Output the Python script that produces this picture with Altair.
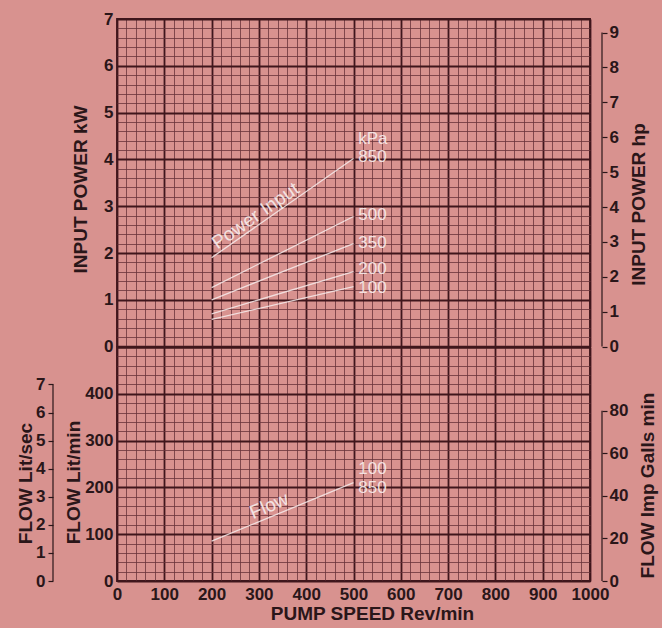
import altair as alt
import pandas as pd

# ---------------- data ----------------
speed = [200, 500]
kw_850 = [1.90, 4.02]
kw_500 = [1.26, 2.78]
kw_350 = [1.00, 2.20]
kw_200 = [0.70, 1.60]
kw_100 = [0.58, 1.28]

curve_names = ["850", "500", "350", "200", "100"]

label_text = ["kPa", "850", "500", "350", "200", "100"]
label_kw = [4.44, 4.06, 2.82, 2.22, 1.65, 1.26]
label_speed = [510, 510, 510, 510, 510, 510]

flow_speed = [200, 500]
flow_lpm = [85, 210]
flow_label_text = ["100", "850"]
flow_label_lpm = [239, 199]
flow_label_speed = [510, 510]

power_title_speed = [305]
power_title_kw = [2.62]
flow_title_speed = [330]
flow_title_lpm = [141]

# ---------------- styling ----------------
BG = "#d8928f"
MAJOR = "#3f161c"
MINOR = "#6a343b"
TXT = "#2a1619"
WHITE = "#f7ecec"
FONT = "Liberation Sans"

UNIT = 46.8
W = 473
H_TOP = 7 * UNIT
H_BOT = 5 * UNIT

x_vals = list(range(0, 1001, 20))
kw_vals = [round(i * 0.2, 1) for i in range(36)]
lpm_vals = list(range(0, 501, 20))


def gcol(test):
    return {"condition": {"test": test, "value": MAJOR}, "value": MINOR}


def gwid(test):
    return {"condition": {"test": test, "value": 1.8}, "value": 0.8}


X_TEST = "datum.value % 100 === 0"
KW_TEST = "abs(datum.value - round(datum.value)) < 0.01"
LPM_TEST = "datum.value % 100 === 0"

x_scale = alt.Scale(domain=[0, 1000], nice=False, zero=True)
kw_scale = alt.Scale(domain=[0, 7], nice=False)
lpm_scale = alt.Scale(domain=[0, 500], nice=False)

x_axis_top = alt.Axis(values=x_vals, labels=False, ticks=False, domain=False,
                      title=None, grid=True, gridColor=gcol(X_TEST),
                      gridWidth=gwid(X_TEST), gridOpacity=1)
x_axis_bot = alt.Axis(values=x_vals, format="d", labelOverlap=False, labelFlush=False,
                      labelExpr=f"{X_TEST} ? datum.label : ''",
                      ticks=False, domain=False, labelPadding=5,
                      title="PUMP SPEED Rev/min", titleX=255, titlePadding=2,
                      grid=True, gridColor=gcol(X_TEST), gridWidth=gwid(X_TEST), gridOpacity=1)
kw_axis = alt.Axis(values=kw_vals, labelOverlap=False, labelFlush=False,
                   labelExpr=f"{KW_TEST} ? format(datum.value, 'd') : ''",
                   ticks=False, domain=False, labelPadding=4,
                   title="INPUT POWER kW", titleX=-37, titleY=170,
                   titleBaseline="middle", titleAngle=270,
                   grid=True, gridColor=gcol(KW_TEST), gridWidth=gwid(KW_TEST), gridOpacity=1)
lpm_axis = alt.Axis(values=lpm_vals, labelOverlap=False, labelFlush=False,
                    labelExpr=f"{LPM_TEST} && datum.value < 500 ? format(datum.value, 'd') : ''",
                    ticks=False, domain=False, labelPadding=4,
                    title="FLOW Lit/min", titleX=-44, titleY=135,
                    titleBaseline="middle", titleAngle=270,
                    grid=True, gridColor=gcol(LPM_TEST), gridWidth=gwid(LPM_TEST), gridOpacity=1)

# ---------------- top panel ----------------
curves = pd.DataFrame({
    "speed": speed * 5,
    "kw": kw_850 + kw_500 + kw_350 + kw_200 + kw_100,
    "kpa": sum([[n] * len(speed) for n in curve_names], []),
})
labels = pd.DataFrame({"speed": label_speed, "kw": label_kw, "text": label_text})
ptitle = pd.DataFrame({"speed": power_title_speed, "kw": power_title_kw, "text": ["Power Input"]})

X_top = alt.X("speed:Q", scale=x_scale, axis=x_axis_top)
Y_kw = alt.Y("kw:Q", scale=kw_scale, axis=kw_axis)

top_lines = alt.Chart(curves).mark_line(color=WHITE, strokeWidth=1.3, opacity=0.85).encode(
    x=X_top, y=Y_kw, detail="kpa:N")
top_labels = alt.Chart(labels).mark_text(color=WHITE, font=FONT, fontSize=17, align="left",
                                         baseline="middle", opacity=0.9).encode(
    x=X_top, y=Y_kw, text="text:N")
top_title = alt.Chart(ptitle).mark_text(color=WHITE, font=FONT, fontSize=19, align="center",
                                        baseline="bottom", angle=325, opacity=0.9).encode(
    x=X_top, y=Y_kw, text="text:N")
top_main = alt.layer(top_lines, top_labels, top_title)

hp_rule = alt.Chart(pd.DataFrame({"lo": [0], "hi": [9]})).mark_rule(
    color=TXT, strokeWidth=1.2).encode(
    x=alt.value(W + 12),
    y=alt.Y("lo:Q", scale=alt.Scale(domain=[0, 7 / 0.7457], nice=False),
            axis=alt.Axis(orient="right", offset=12, values=list(range(10)), format="d",
                          domain=False, tickSize=5, tickWidth=1.2, tickColor=TXT,
                          labelPadding=2, grid=False, labelFlush=False, labelOverlap=False,
                          title="INPUT POWER hp", titleX=36, titleY=185,
                          titleBaseline="middle", titleAngle=270)),
    y2="hi:Q")

top = alt.layer(top_main, hp_rule).resolve_scale(y="independent").properties(
    width=W, height=H_TOP)

# ---------------- bottom panel ----------------
flow = pd.DataFrame({"speed": flow_speed, "lpm": flow_lpm})
flabels = pd.DataFrame({"speed": flow_label_speed, "lpm": flow_label_lpm, "text": flow_label_text})
ftitle = pd.DataFrame({"speed": flow_title_speed, "lpm": flow_title_lpm, "text": ["Flow"]})

X_bot = alt.X("speed:Q", scale=x_scale, axis=x_axis_bot)
Y_lpm = alt.Y("lpm:Q", scale=lpm_scale, axis=lpm_axis)

bot_line = alt.Chart(flow).mark_line(color=WHITE, strokeWidth=1.3, opacity=0.85).encode(
    x=X_bot, y=Y_lpm)
bot_labels = alt.Chart(flabels).mark_text(color=WHITE, font=FONT, fontSize=17, align="left",
                                          baseline="middle", opacity=0.9).encode(
    x=X_bot, y=Y_lpm, text="text:N")
bot_title = alt.Chart(ftitle).mark_text(color=WHITE, font=FONT, fontSize=19, align="center",
                                        baseline="bottom", angle=337, opacity=0.9).encode(
    x=X_bot, y=Y_lpm, text="text:N")
bot_main = alt.layer(bot_line, bot_labels, bot_title)

lsec_rule = alt.Chart(pd.DataFrame({"lo": [0], "hi": [7]})).mark_rule(
    color=TXT, strokeWidth=1.2).encode(
    x=alt.value(-64),
    y=alt.Y("lo:Q", scale=alt.Scale(domain=[0, 500 / 60], nice=False),
            axis=alt.Axis(orient="left", offset=64, values=list(range(8)), format="d",
                          domain=False, tickSize=5, tickWidth=1.2, tickColor=TXT,
                          labelPadding=3, grid=False, labelFlush=False, labelOverlap=False,
                          title="FLOW Lit/sec", titleX=-28, titleY=136,
                          titleBaseline="middle", titleAngle=270)),
    y2="hi:Q")

gal_rule = alt.Chart(pd.DataFrame({"lo": [0], "hi": [80]})).mark_rule(
    color=TXT, strokeWidth=1.2).encode(
    x=alt.value(W + 12),
    y=alt.Y("lo:Q", scale=alt.Scale(domain=[0, 500 / 4.54609], nice=False),
            axis=alt.Axis(orient="right", offset=12, values=[0, 20, 40, 60, 80], format="d",
                          domain=False, tickSize=5, tickWidth=1.2, tickColor=TXT,
                          labelPadding=2, grid=False, labelFlush=False, labelOverlap=False,
                          title="FLOW Imp Galls min", titleX=45, titleY=138,
                          titleBaseline="middle", titleAngle=270)),
    y2="hi:Q")

bottom = alt.layer(bot_main, lsec_rule, gal_rule).resolve_scale(y="independent").properties(
    width=W, height=H_BOT)

chart = alt.vconcat(top, bottom, spacing=0, bounds="flush").properties(
    padding={"left": 15, "top": 9, "right": 4, "bottom": 4}
).configure(background=BG).configure_view(
    stroke=MAJOR, strokeWidth=1.8
).configure_axis(
    labelFont=FONT, labelFontSize=17, labelFontWeight="bold", labelColor=TXT,
    titleFont=FONT, titleFontSize=19, titleFontWeight="bold", titleColor=TXT
)

chart.save("out.html", embed_options={"renderer": "svg", "actions": False})
